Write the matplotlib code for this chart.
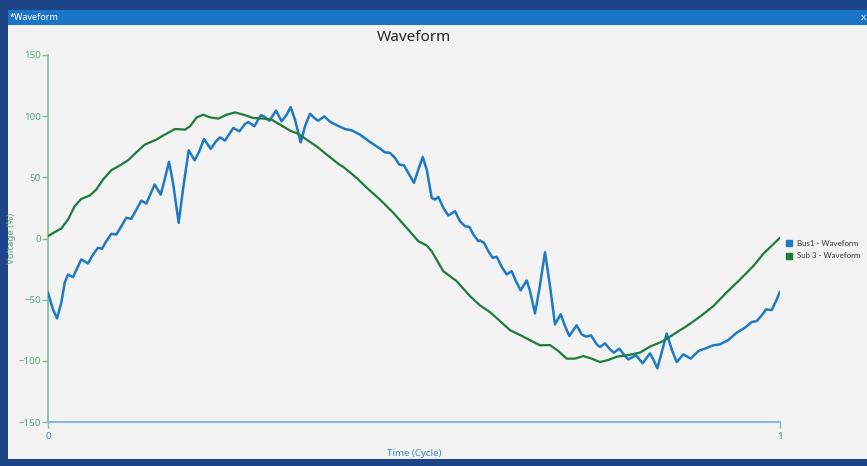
import matplotlib
matplotlib.use("Agg")
import matplotlib.pyplot as plt
from matplotlib.patches import Rectangle
from matplotlib.lines import Line2D

plt.rcParams["font.family"] = ["Noto Sans", "DejaVu Sans"]

# ---- data ----
bus_t = [0.0, 0.0068, 0.0123, 0.0182, 0.0228, 0.0273, 0.0342, 0.0401, 0.0455, 0.0546,
         0.0615, 0.0683, 0.0738, 0.0797, 0.0865, 0.0934, 0.1002, 0.107, 0.1138, 0.1207,
         0.1275, 0.1343, 0.1403, 0.1457, 0.154, 0.1594, 0.1653, 0.1708, 0.1785, 0.1844,
         0.1922, 0.2004, 0.2067, 0.2131, 0.2223, 0.2295, 0.235, 0.2418, 0.2486, 0.2532,
         0.2614, 0.2691, 0.2737, 0.2819, 0.2906, 0.2951, 0.3024, 0.3115, 0.3192, 0.3261,
         0.3315, 0.3374, 0.3452, 0.3511, 0.3579, 0.3648, 0.3693, 0.3775, 0.3852, 0.3944,
         0.4057, 0.4148, 0.4262, 0.4399, 0.4536, 0.4604, 0.4672, 0.474, 0.4799, 0.4863,
         0.4936, 0.5, 0.5059, 0.5119, 0.5174, 0.5242, 0.5287, 0.5332, 0.54, 0.5469,
         0.556, 0.5628, 0.5697, 0.5756, 0.5811, 0.5879, 0.5902, 0.5956, 0.6015, 0.6075,
         0.613, 0.6198, 0.6266, 0.6334, 0.6393, 0.6457, 0.654, 0.6585, 0.6653, 0.6712,
         0.679, 0.6858, 0.6926, 0.7004, 0.7063, 0.7122, 0.7222, 0.7291, 0.735, 0.7418,
         0.7496, 0.7541, 0.7609, 0.7678, 0.7732, 0.7805, 0.7883, 0.7928, 0.8033, 0.8124,
         0.8224, 0.8269, 0.8324, 0.8383, 0.8452, 0.852, 0.8589, 0.8679, 0.878, 0.8884,
         0.8975, 0.9089, 0.918, 0.9294, 0.9408, 0.9522, 0.9613, 0.9681, 0.975, 0.9809,
         0.9886, 0.9945, 1.0]
bus_v = [-44.3, -58.0, -65.3, -52.5, -36.2, -29.4, -31.6, -23.9, -17.1, -20.4,
         -13.1, -7.6, -8.4, -2.2, 3.8, 3.3, 10.0, 16.9, 16.1, 23.7,
         31.0, 28.6, 36.7, 44.1, 35.9, 48.2, 62.6, 45.5, 12.8, 40.0,
         72.1, 63.9, 71.3, 81.4, 73.2, 79.4, 82.7, 80.0, 86.3, 90.4,
         87.6, 93.6, 95.2, 91.7, 100.7, 99.8, 96.3, 104.5, 95.8, 101.2,
         107.5, 97.1, 78.6, 91.7, 102.0, 98.0, 96.3, 99.8, 95.5, 92.6,
         89.5, 88.4, 84.9, 78.9, 73.5, 70.4, 70.0, 65.9, 60.4, 59.8,
         52.2, 45.5, 56.3, 66.7, 56.3, 33.2, 31.8, 34.0, 25.1, 18.8,
         22.3, 14.1, 10.0, 9.5, 3.3, -2.2, -1.6, -3.5, -10.4, -15.8,
         -14.9, -23.1, -29.4, -26.7, -34.9, -42.4, -34.3, -43.0, -61.2, -41.6,
         -11.2, -38.9, -70.2, -62.0, -71.6, -79.7, -71.0, -78.4, -80.2, -79.2,
         -86.5, -88.7, -85.7, -90.6, -93.3, -90.0, -96.1, -98.8, -95.5, -102.0,
         -93.9, -98.8, -106.1, -93.3, -77.6, -90.6, -101.0, -94.7, -98.2, -92.0,
         -90.0, -87.3, -86.5, -83.0, -77.0, -72.9, -68.3, -67.5, -62.9, -58.0,
         -58.5, -51.2, -43.5]

sub_t = [0.0, 0.0091, 0.0182, 0.0273, 0.0364, 0.0455, 0.0569, 0.066, 0.0751, 0.0865,
         0.0979, 0.1093, 0.1207, 0.1321, 0.148, 0.1553, 0.1735, 0.1872, 0.194, 0.2031,
         0.2122, 0.2213, 0.2327, 0.2441, 0.2555, 0.2669, 0.2805, 0.2942, 0.3056, 0.3169,
         0.3306, 0.342, 0.3534, 0.367, 0.3807, 0.398, 0.4035, 0.4217, 0.4354, 0.4536,
         0.4717, 0.49, 0.5059, 0.5174, 0.5242, 0.5301, 0.54, 0.5583, 0.5765, 0.5902,
         0.6038, 0.6175, 0.6311, 0.6448, 0.6607, 0.6721, 0.6858, 0.6972, 0.7086, 0.7199,
         0.7313, 0.7427, 0.7541, 0.7655, 0.7769, 0.7906, 0.8087, 0.8224, 0.8406, 0.8543,
         0.8725, 0.8907, 0.9089, 0.9271, 0.9454, 0.9636, 0.9772, 1.0]
sub_v = [1.9, 5.2, 8.2, 15.5, 26.4, 32.4, 35.1, 40.0, 48.2, 55.8,
         59.6, 63.9, 70.4, 76.7, 80.8, 83.5, 89.5, 89.0, 91.7, 99.0,
         101.2, 99.0, 98.0, 101.2, 103.1, 101.2, 98.5, 98.0, 97.1, 93.1,
         88.2, 85.5, 80.8, 75.3, 68.6, 60.4, 58.5, 49.5, 41.5, 31.8,
         21.0, 8.7, -2.2, -5.7, -10.4, -16.6, -26.7, -34.9, -47.1, -54.7,
         -60.2, -67.5, -74.9, -78.9, -83.8, -87.3, -87.1, -92.0, -98.2, -98.2,
         -96.1, -98.2, -101.0, -99.3, -96.6, -95.5, -93.3, -88.4, -83.8, -78.4,
         -71.6, -63.9, -55.3, -44.0, -33.5, -22.5, -12.5, 0.6]

series_names = ["Bus1 - Waveform", "Sub 3 - Waveform"]
y_ticks = [-150, -100, -50, 0, 50, 100, 150]
x_ticks = [0, 1]

# ---- styling ----
W, H = 867, 466
BLUE = "#1f7ac6"
GREEN = "#1e7b3e"
FRAME = "#1d4486"
BAR = "#1b74c6"
BG = "#f3f3f3"
YCOL = "#5aa57c"
XCOL = "#3d86bf"

fig = plt.figure(figsize=(W / 100, H / 100), dpi=100)
fig.patch.set_facecolor(FRAME)

def px_rect(x0, y0, x1, y1, color):
    fig.patches.append(Rectangle((x0 / W, 1 - y1 / H), (x1 - x0) / W, (y1 - y0) / H,
                                 transform=fig.transFigure, facecolor=color,
                                 edgecolor="none", zorder=-10))

px_rect(8, 10, 867, 25, BAR)
px_rect(8, 25, 867, 459, BG)
fig.text(10 / W, 1 - 17.5 / H, "*Waveform", color="white", fontsize=6.5,
         va="center", ha="left")
fig.text(863 / W, 1 - 17.5 / H, "x", color="white", fontsize=7, va="center", ha="center")

ax_l, ax_r, ax_t, ax_b = 48, 780, 55, 422
ax = fig.add_axes([ax_l / W, 1 - ax_b / H, (ax_r - ax_l) / W, (ax_b - ax_t) / H])
ax.patch.set_alpha(0)

ax.plot(bus_t, bus_v, color=BLUE, lw=1.8, solid_joinstyle="round",
        solid_capstyle="round", zorder=3)
ax.plot(sub_t, sub_v, color=GREEN, lw=1.6, solid_joinstyle="round",
        solid_capstyle="round", zorder=3)

ax.set_xlim(0, 1)
ax.set_ylim(-150, 150)
ax.set_yticks(y_ticks)
ax.set_xticks(x_ticks)
ax.set_xticklabels([str(v) for v in x_ticks])

for s in ["top", "right"]:
    ax.spines[s].set_visible(False)
ax.spines["left"].set_color("#7cbf98")
ax.spines["left"].set_linewidth(1.2)
ax.spines["bottom"].set_color("#8db8cf")
ax.spines["bottom"].set_linewidth(1.5)

ax.tick_params(axis="y", colors="#7cbf98", labelcolor=YCOL, labelsize=7, length=4,
               width=1, pad=1)
ax.tick_params(axis="x", colors="#8db8cf", labelcolor=XCOL, labelsize=7, length=4,
               width=1, pad=3)

ax.set_ylabel("Voltage (%)", color=YCOL, fontsize=7)
ax.yaxis.set_label_coords(-(ax_l - 16) / (ax_r - ax_l), 0.5)
ax.set_xlabel("Time (Cycle)", color=XCOL, fontsize=7, labelpad=6)
ax.set_title("Waveform", color="#222222", fontsize=11, pad=10)

handles = [Line2D([], [], color=BLUE, marker="s", linestyle="none", markersize=5),
           Line2D([], [], color=GREEN, marker="s", linestyle="none", markersize=5)]
fig.legend(handles, series_names, loc="center left",
           bbox_to_anchor=(785 / W, 1 - 249.5 / H), frameon=False,
           prop={"family": ["Lato", "DejaVu Sans"], "size": 5.7},
           handletextpad=0.55, labelspacing=0.75, handlelength=1.0, borderpad=0,
           borderaxespad=0, labelcolor="#333333")

fig.savefig("out.png", dpi=100, facecolor=fig.get_facecolor())
